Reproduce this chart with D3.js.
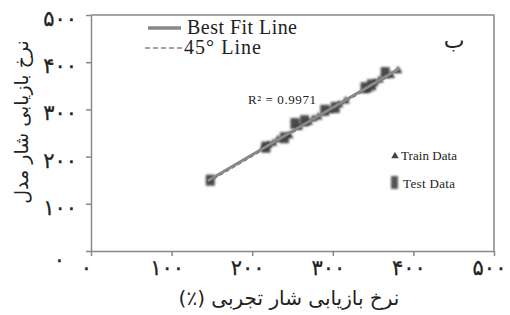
<!DOCTYPE html>
<html>
<head>
<meta charset="utf-8">
<script src="https://cdn.jsdelivr.net/npm/d3@7"></script>
<style>
  body { margin: 0; background: #fff; }
  svg { display: block; }
  .axis path, .axis line { stroke: #888; stroke-width: 1.5; }
  .axis text { font-family: "DejaVu Sans", sans-serif; font-size: 21px; fill: #222; stroke: #222; stroke-width: 0.3; letter-spacing: 2px; }
</style>
</head>
<body>
<div id="chart"></div>
<script>
// DATA
const xTicks = [0, 100, 200, 300, 400, 500];
const yTicks = [0, 100, 200, 300, 400, 500];

const trainX = [214, 220, 226, 232, 246, 258, 270, 276, 282, 296, 308, 316, 344, 352, 358, 372, 381];
const trainY = [218, 224, 228, 236, 244, 262, 272, 280, 284, 298, 310, 318, 342, 356, 362, 372, 382];

const testX = [148, 217, 240, 253, 265, 290, 303, 340, 348, 365];
const testY = [150, 220, 240, 270, 276, 298, 304, 346, 352, 378];

const r2Text = "R² = 0.9971";

const width = 510, height = 315;
const margin = {top: 15, left: 91, right: 16, bottom: 64};

const svg = d3.select("#chart")
    .append("svg")
    .attr("width", width)
    .attr("height", height);

const defs = svg.append("defs");
defs.append("filter")
    .attr("id", "soft")
    .attr("x", "-50%").attr("y", "-50%").attr("width", "200%").attr("height", "200%")
    .append("feGaussianBlur")
    .attr("stdDeviation", 1);

//SCALES
const xScale = d3.scaleLinear()
    .domain([0, 500])
    .range([margin.left, width - margin.right]);

const yScale = d3.scaleLinear()
    .domain([0, 500])
    .range([height - margin.bottom, margin.top]);

const fa = d => String(d).replace(/[0-9]/g, c => "۰۱۲۳۴۵۶۷۸۹"[+c]);

// FRAME (top + right)
svg.append("path")
    .attr("d", `M${xScale(0)},${yScale(500)}H${xScale(500)}V${yScale(0)}`)
    .attr("fill", "none")
    .attr("stroke", "#888")
    .attr("stroke-width", 1.5);

//AXES
const xAxis = svg.append("g")
    .attr("class", "axis")
    .attr("transform", `translate(0,${yScale(0)})`)
    .call(d3.axisBottom(xScale).tickValues(xTicks).tickSize(5).tickSizeOuter(0).tickFormat(fa));
xAxis.selectAll("text").attr("dy", "0.75em").attr("dx", "-5");

const yAxis = svg.append("g")
    .attr("class", "axis")
    .attr("transform", `translate(${xScale(0)},0)`)
    .call(d3.axisLeft(yScale).tickValues(yTicks).tickSize(5).tickSizeOuter(0).tickFormat(fa));
yAxis.selectAll("text")
    .attr("dx", "-6")
    .attr("dy", "0.5em")
    .filter(d => d === 0)
    .attr("dx", "-18")
    .attr("dy", "0.75em");

// AXIS LABELS
svg.append("text")
    .attr("x", 289)
    .attr("y", 305)
    .attr("text-anchor", "middle")
    .attr("direction", "rtl")
    .attr("font-family", "DejaVu Sans, sans-serif")
    .attr("font-size", 20)
    .attr("fill", "#222")
    .text("نرخ بازیابی شار تجربی (٪)");

svg.append("text")
    .attr("transform", `translate(28,${122}) rotate(-90)`)
    .attr("text-anchor", "middle")
    .attr("font-family", "DejaVu Sans, sans-serif")
    .attr("font-size", 19)
    .attr("fill", "#222")
    .text("نرخ بازیابی شار مدل");

// 45 DEGREE LINE
svg.append("line")
    .attr("x1", xScale(145)).attr("y1", yScale(145))
    .attr("x2", xScale(385)).attr("y2", yScale(385))
    .attr("stroke", "#666")
    .attr("stroke-width", 1)
    .attr("stroke-dasharray", "4,3");

// MARKS
const allX = trainX.concat(testX), allY = trainY.concat(testY);
const mx = d3.mean(allX), my = d3.mean(allY);
const slope = d3.sum(allX, (x, i) => (x - mx) * (allY[i] - my)) / d3.sum(allX, x => (x - mx) * (x - mx));
const icpt = my - slope * mx;

svg.append("g").attr("filter", "url(#soft)")
    .selectAll("rect")
    .data(testX)
    .enter()
    .append("rect")
        .attr("x", d => xScale(d) - 4.5)
        .attr("y", (d, i) => yScale(testY[i]) - 5.5)
        .attr("width", 9)
        .attr("height", 11)
        .attr("fill", "#4a4a4a");

svg.append("g").attr("filter", "url(#soft)")
    .selectAll("path")
    .data(trainX)
    .enter()
    .append("path")
        .attr("d", d3.symbol().type(d3.symbolTriangle).size(32))
        .attr("transform", (d, i) => `translate(${xScale(d)},${yScale(trainY[i])})`)
        .attr("fill", "#3a3a3a");

// BEST FIT LINE
const x0 = d3.min(allX) - 3, x1 = d3.max(allX) + 1;
svg.append("line")
    .attr("x1", xScale(x0)).attr("y1", yScale(slope * x0 + icpt))
    .attr("x2", xScale(x1)).attr("y2", yScale(slope * x1 + icpt))
    .attr("stroke", "#888")
    .attr("stroke-width", 3);

// LEGEND (top)
svg.append("line")
    .attr("x1", 148).attr("x2", 181).attr("y1", 28).attr("y2", 28)
    .attr("stroke", "#888").attr("stroke-width", 3.5);
svg.append("text")
    .attr("x", 187).attr("y", 34)
    .attr("font-family", "Liberation Serif, serif")
    .attr("font-size", 20).attr("fill", "#222")
    .attr("textLength", 110)
    .text("Best Fit Line");

svg.append("line")
    .attr("x1", 145).attr("x2", 182).attr("y1", 48).attr("y2", 48)
    .attr("stroke", "#444").attr("stroke-width", 1.2).attr("stroke-dasharray", "5,3");
svg.append("text")
    .attr("x", 184).attr("y", 54)
    .attr("font-family", "Liberation Serif, serif")
    .attr("font-size", 20).attr("fill", "#222")
    .attr("textLength", 77)
    .text("45° Line");

svg.append("text")
    .attr("x", 454).attr("y", 48)
    .attr("text-anchor", "middle")
    .attr("font-family", "DejaVu Sans, sans-serif")
    .attr("font-size", 22).attr("fill", "#222")
    .text("ب");

svg.append("text")
    .attr("x", 248).attr("y", 104)
    .attr("font-family", "Liberation Serif, serif")
    .attr("font-size", 13).attr("fill", "#222")
    .attr("textLength", 68)
    .text(r2Text);

// LEGEND (series)
svg.append("path")
    .attr("d", d3.symbol().type(d3.symbolTriangle).size(24))
    .attr("transform", "translate(395,156)")
    .attr("fill", "#444");
svg.append("text")
    .attr("x", 401).attr("y", 160)
    .attr("font-family", "Liberation Serif, serif")
    .attr("font-size", 13).attr("fill", "#222")
    .attr("textLength", 56)
    .text("Train Data");

svg.append("rect")
    .attr("x", 391).attr("y", 176).attr("width", 7).attr("height", 13)
    .attr("fill", "#555").attr("filter", "url(#soft)");
svg.append("text")
    .attr("x", 403).attr("y", 188)
    .attr("font-family", "Liberation Serif, serif")
    .attr("font-size", 13).attr("fill", "#222")
    .attr("textLength", 52)
    .text("Test Data");
</script>
</body>
</html>
